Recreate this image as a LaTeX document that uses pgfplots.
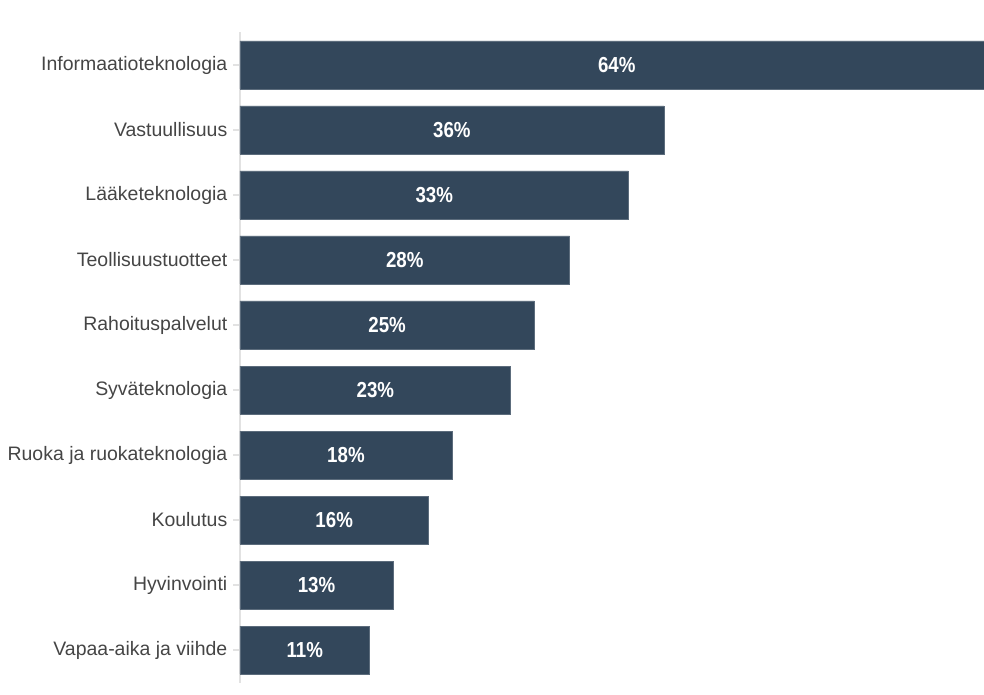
\documentclass[border=0pt]{standalone}
\usepackage{pgfplots}
\pgfplotsset{compat=1.18}
\usepackage{fontspec}
\setmainfont{Liberation Sans}
\newfontfamily\condfont{Liberation Sans}[FakeStretch=0.86]
\definecolor{barc}{HTML}{33475B}
\definecolor{lbl}{HTML}{454545}
\definecolor{axc}{HTML}{E2E2E2}
\begin{document}
\begin{tikzpicture}
\begin{axis}[
  at={(0pt,0pt)}, anchor=south west,
  scale only axis,
  width=558pt, height=487.5pt,
  xmin=0, xmax=63.2,
  ymin=-0.5, ymax=9.5,
  y dir=reverse,
  axis x line=none,
  axis y line*=left,
  axis line style={draw=axc, line width=0.8pt},
  ytick={0,...,9},
  yticklabels={Informaatioteknologia,Vastuullisuus,Lääketeknologia,Teollisuustuotteet,Rahoituspalvelut,Syväteknologia,Ruoka ja ruokateknologia,Koulutus,Hyvinvointi,Vapaa-aika ja viihde},
  yticklabel style={font=\fontsize{14.6}{16}\selectfont, text=lbl, xshift=-1pt},
  tick align=outside,
  major tick length=5pt,
  tick style={draw=axc, line width=0.8pt},
  clip=true,
]
\addplot[xbar, bar width=36pt, fill=barc, draw=barc!80!white, line width=0.4pt]
  coordinates {(64,0) (36,1) (33,2) (28,3) (25,4) (23,5) (18,6) (16,7) (13,8) (11,9)};
\addplot[only marks, mark=none, nodes near coords, nodes near coords align=center,
  point meta=explicit symbolic,
  every node near coord/.append style={text=white, font=\condfont\bfseries\fontsize{16.3}{18}\selectfont, anchor=center}]
  coordinates {(32,0) [64\%] (18,1) [36\%] (16.5,2) [33\%] (14,3) [28\%] (12.5,4) [25\%] (11.5,5) [23\%] (9,6) [18\%] (8,7) [16\%] (6.5,8) [13\%] (5.5,9) [11\%]};
\end{axis}
\pgfresetboundingbox
\useasboundingbox (-180pt,-9.375pt) rectangle (558pt,511.875pt);
\end{tikzpicture}
\end{document}
